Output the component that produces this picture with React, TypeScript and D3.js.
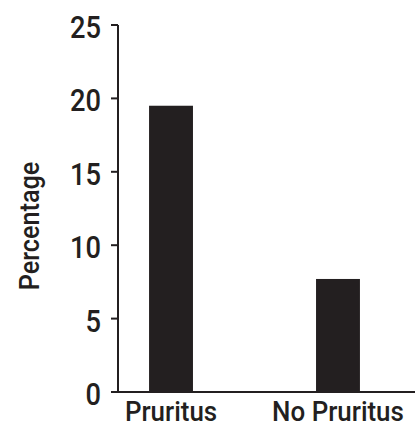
import * as d3 from "d3";

const categories = ["Pruritus", "No Pruritus"];
const values = [19.5, 7.7];
const yTicks = [0, 5, 10, 15, 20, 25];

const width = 415;
const height = 428;
const ink = "#231f20";
const font = "Roboto, 'DejaVu Sans Condensed', sans-serif";

// condensed-looking text: squeeze horizontally around its anchor point
function Label({ x, y, anchor, size, children, rotate = 0, sx = 0.88 }) {
  return (
    <g transform={`translate(${x},${y}) rotate(${rotate}) scale(${sx},1)`}>
      <text textAnchor={anchor} fontFamily={font} fontWeight={500} fontSize={size} fill={ink}>{children}</text>
    </g>
  );
}

export default function App() {
  const axisX = 118;
  const x = d3.scaleBand()
    .domain(categories)
    .range([axisX, 391])
    .paddingInner(0.737)
    .paddingOuter(0.186);

  const y = d3.scaleLinear()
    .domain([0, 25])
    .range([392, 25]);

  return (
    <svg width={width} height={height} style={{ position: "absolute", left: 0, top: 0 }}>
      {/* bars */}
      {categories.map((c, i) => (
        <rect key={c} x={x(c)} y={y(values[i])} width={x.bandwidth()}
          height={y(0) - y(values[i])} fill={ink} />
      ))}
      {/* y axis */}
      <line x1={axisX} x2={axisX} y1={y(25)} y2={y(0)} stroke={ink} strokeWidth={2} />
      {yTicks.map(t => (
        <g key={t}>
          <line x1={axisX - 7} x2={axisX} y1={y(t)} y2={y(t)} stroke={ink} strokeWidth={2} />
          <Label x={101} y={y(t) + 13} anchor="end" size={31}>{t}</Label>
        </g>
      ))}
      {/* x axis */}
      <line x1={axisX - 7} x2={width} y1={y(0)} y2={y(0)} stroke={ink} strokeWidth={2} />
      {categories.map(c => (
        <Label key={c} x={x(c) + x.bandwidth() / 2} y={421} anchor="middle" size={27} sx={0.96}>{c}</Label>
      ))}
      <Label x={39} y={226} anchor="middle" size={28} rotate={-90} sx={0.9}>Percentage</Label>
    </svg>
  );
}
